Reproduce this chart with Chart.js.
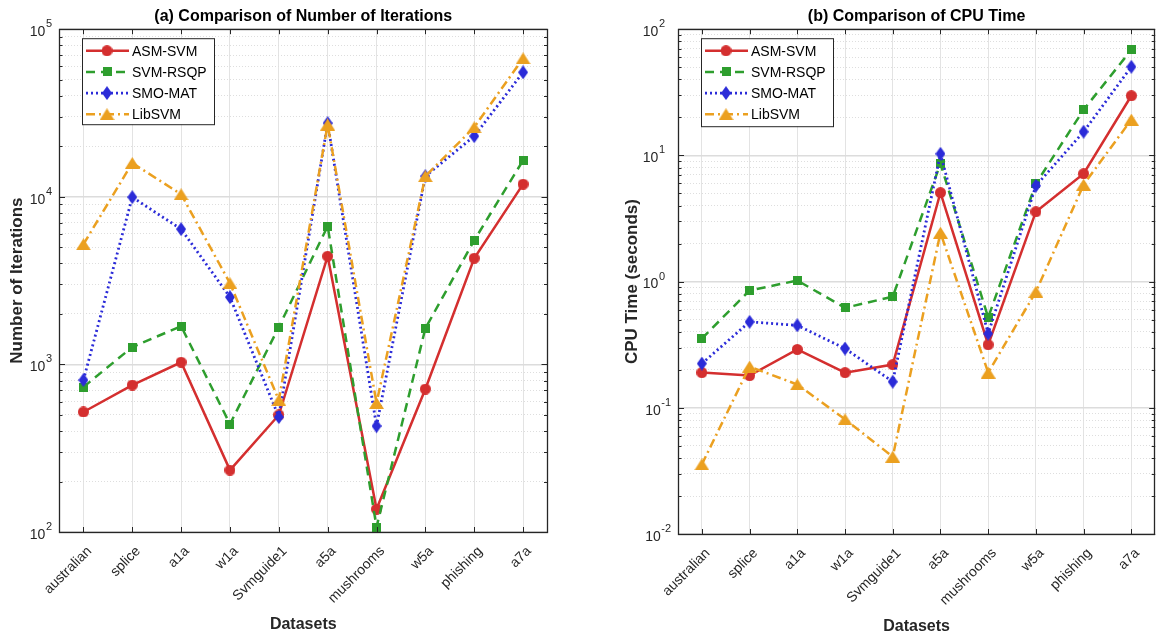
<!DOCTYPE html>
<html>
<head>
<meta charset="utf-8">
<script src="https://cdn.jsdelivr.net/npm/chart.js@4.4.0/dist/chart.umd.min.js"></script>
<style>
  html, body { margin: 0; padding: 0; background: #fff; overflow: hidden; }
  .wrap { position: absolute; top: 0; height: 636px; }
  #w1 { left: 0; width: 580px; }
  #w2 { left: 580px; width: 584px; }
</style>
</head>
<body>
<div class="wrap" id="w1"><canvas id="iterChart" width="580" height="636"></canvas></div>
<div class="wrap" id="w2"><canvas id="cpuChart" width="584" height="636"></canvas></div>
<script>
/* ===== DATA ===== */
const datasetNames = ['australian','splice','a1a','w1a','Svmguide1','a5a','mushrooms','w5a','phishing','a7a'];
const methods = ['ASM-SVM','SVM-RSQP','SMO-MAT','LibSVM'];

// (a) number of iterations
const iterASM  = [520, 753, 1030, 234, 499, 4420, 137, 713, 4300, 11900];
const iterRSQP = [732, 1270, 1690, 440, 1670, 6680, 107, 1640, 5500, 16500];
const iterSMO  = [806, 9950, 6410, 2520, 485, 27500, 429, 13270, 23000, 55300];
const iterLib  = [5210, 15900, 10350, 3050, 612, 27000, 588, 13270, 26000, 67000];

// (b) CPU time (seconds)
const cpuASM  = [0.19, 0.18, 0.29, 0.19, 0.22, 5.07, 0.316, 3.58, 7.16, 29.7];
const cpuRSQP = [0.354, 0.85, 1.02, 0.62, 0.76, 8.6, 0.52, 5.97, 23, 68.7];
const cpuSMO  = [0.224, 0.48, 0.45, 0.295, 0.161, 10.3, 0.387, 5.75, 15.4, 50.4];
const cpuLib  = [0.0356, 0.212, 0.153, 0.081, 0.041, 2.44, 0.19, 0.83, 5.86, 19.2];

// y tick labels (powers of ten)
const iterExps = [2, 3, 4, 5];
const cpuExps  = [-2, -1, 0, 1, 2];

const FONT = "'Liberation Sans', Arial, Helvetica, sans-serif";
const INK  = '#262626';
Chart.defaults.font.family = FONT;
Chart.defaults.color = INK;

/* ===== MARKERS ===== */
function marker(shape, color, w, h) {
  const c = document.createElement('canvas');
  c.width = w; c.height = h;
  const g = c.getContext('2d');
  g.fillStyle = color;
  g.beginPath();
  if (shape === 'circle')   g.arc(w / 2, h / 2, w / 2, 0, Math.PI * 2);
  if (shape === 'square')   g.rect(0, 0, w, h);
  if (shape === 'diamond')  { g.moveTo(w / 2, 0); g.lineTo(w, h / 2); g.lineTo(w / 2, h); g.lineTo(0, h / 2); }
  if (shape === 'triangle') { g.moveTo(w / 2, 0); g.lineTo(w, h); g.lineTo(0, h); }
  g.closePath();
  g.fill();
  return c;
}

const styles = [
  { color: '#D42F2F', dash: [],           width: 2.5, pt: marker('circle',   '#D42F2F', 11, 11), order: 4 },
  { color: '#2E9E2E', dash: [9, 6],       width: 2.5, pt: marker('square',   '#2E9E2E', 9, 9),   order: 3 },
  { color: '#2B2BD8', dash: [2, 3],       width: 2.8, pt: marker('diamond',  '#2B2BD8', 10, 14), order: 2 },
  { color: '#EBA020', dash: [9, 4, 2, 4], width: 2.5, pt: marker('triangle', '#EBA020', 15, 12), order: 1 }
];

function makeSets(series) {
  return series.map((vals, i) => ({
    label: methods[i],
    data: vals,
    borderColor: styles[i].color,
    backgroundColor: styles[i].color,
    borderDash: styles[i].dash,
    borderWidth: styles[i].width,
    pointStyle: styles[i].pt,
    pointRadius: 6,
    tension: 0,
    fill: false,
    order: styles[i].order
  }));
}

const isMajor = v => Math.abs(Math.log10(v) - Math.round(Math.log10(v))) < 1e-6;

/* ===== MATLAB-STYLE FRAME, TICKS, LEGEND ===== */
const frame = {
  id: 'frame',
  afterDraw(chart, args, o) {
    const { ctx, chartArea: a, scales: { x, y } } = chart;
    ctx.save();
    ctx.strokeStyle = INK;
    ctx.lineWidth = 1;
    ctx.beginPath();
    y.ticks.forEach(t => {
      const py = Math.round(y.getPixelForValue(t.value)) + 0.5;
      const L = isMajor(t.value) ? 6 : 3.5;
      ctx.moveTo(a.left, py);  ctx.lineTo(a.left + L, py);
      ctx.moveTo(a.right, py); ctx.lineTo(a.right - L, py);
    });
    x.ticks.forEach((t, i) => {
      const px = Math.round(x.getPixelForTick(i)) + 0.5;
      ctx.moveTo(px, a.bottom); ctx.lineTo(px, a.bottom - 5);
      ctx.moveTo(px, a.top);    ctx.lineTo(px, a.top + 5);
    });
    ctx.stroke();
    ctx.lineWidth = 1.3;
    ctx.strokeRect(Math.round(a.left) + 0.5, Math.round(a.top) + 0.5, Math.round(a.right - a.left) - 1, Math.round(a.bottom - a.top));

    // y tick labels 10^n
    ctx.fillStyle = INK;
    ctx.textBaseline = 'middle';
    const hasNeg = o.exps.some(e => e < 0);
    o.exps.forEach(e => {
      const py = y.getPixelForValue(Math.pow(10, e));
      ctx.font = '11px ' + FONT;
      const es = String(e);
      const we = ctx.measureText(es).width;
      const shift = (hasNeg && e >= 0) ? 6 : 0;
      const ex = a.left - 7 - shift - we;
      ctx.textAlign = 'left';
      ctx.fillText(es, ex, py - 5);
      ctx.font = '14px ' + FONT;
      ctx.textAlign = 'right';
      ctx.fillText('10', ex - 0.5, py + 3);
    });

    // legend
    const bx = a.left + 23, by = a.top + 9, bw = 132, bh = o.legendH;
    ctx.fillStyle = '#fff';
    ctx.fillRect(bx, by, bw, bh);
    ctx.strokeStyle = INK;
    ctx.lineWidth = 1;
    ctx.strokeRect(bx + 0.5, by + 0.5, bw, bh);
    chart.data.datasets.forEach((ds, i) => {
      const ry = by + 12.5 + i * 21.2;
      ctx.save();
      ctx.strokeStyle = ds.borderColor;
      ctx.lineWidth = ds.borderWidth;
      ctx.setLineDash(ds.borderDash);
      ctx.beginPath();
      ctx.moveTo(bx + 4, ry); ctx.lineTo(bx + 47, ry);
      ctx.stroke();
      ctx.restore();
      const p = ds.pointStyle;
      ctx.drawImage(p, bx + 25 - p.width / 2, ry - p.height / 2);
      ctx.fillStyle = '#000';
      ctx.font = '14px ' + FONT;
      ctx.textAlign = 'left';
      ctx.fillText(ds.label, bx + 50, ry + 1);
    });
    ctx.restore();
  }
};

/* ===== CHART BUILDER ===== */
function buildChart(id, cfg) {
  const lo = Math.pow(10, cfg.exps[0]);
  const hi = Math.pow(10, cfg.exps[cfg.exps.length - 1]);
  new Chart(document.getElementById(id), {
    type: 'line',
    data: { labels: datasetNames, datasets: makeSets(cfg.series) },
    options: {
      responsive: false,
      animation: false,
      layout: { padding: { left: 0, right: cfg.padRight, top: 0, bottom: 0 } },
      plugins: {
        legend: { display: false },
        tooltip: { enabled: false },
        title: {
          display: true, fullSize: false, text: cfg.title, color: '#000',
          font: { size: 16, weight: 'bold' }, padding: { top: 7, bottom: 3 }
        },
        frame: { exps: cfg.exps, legendH: cfg.legendH }
      },
      scales: {
        x: {
          type: 'category', offset: true,
          grid: { drawTicks: false, offset: false, color: '#e3e3e3' },
          border: { display: false },
          ticks: { font: { size: 14 }, color: INK, minRotation: 45, maxRotation: 45, padding: 11, labelOffset: 6, autoSkip: false },
          title: { display: true, text: 'Datasets', color: INK, font: { size: 16, weight: 'bold' }, padding: { top: 0, bottom: cfg.xTitlePad } },
          afterFit: s => { s.height = cfg.xHeight; }
        },
        y: {
          type: 'logarithmic', min: lo, max: hi,
          afterBuildTicks: s => {
            const t = [];
            for (let e = cfg.exps[0]; e < cfg.exps[cfg.exps.length - 1]; e++) {
              for (let m = 1; m < 10; m++) t.push({ value: m * Math.pow(10, e) });
            }
            t.push({ value: hi });
            s.ticks = t;
          },
          ticks: { display: false },
          grid: {
            drawTicks: false,
            color: c => (c.tick && isMajor(c.tick.value)) ? '#dcdcdc' : '#dedede',
            lineWidth: c => (c.tick && isMajor(c.tick.value)) ? 1.5 : 1
          },
          border: { display: false, dash: c => (c.tick && isMajor(c.tick.value)) ? [] : [1, 2] },
          title: { display: true, text: cfg.yTitle, color: INK, font: { size: 17, weight: 'bold' }, padding: { top: cfg.yTitlePad, bottom: 0 } },
          afterFit: s => { s.width = cfg.yWidth; }
        }
      }
    },
    plugins: [frame]
  });
}

buildChart('iterChart', {
  title: '(a) Comparison of Number of Iterations',
  yTitle: 'Number of Iterations',
  series: [iterASM, iterRSQP, iterSMO, iterLib],
  exps: iterExps,
  yWidth: 59, padRight: 32.5, yTitlePad: 7,
  xHeight: 104, xTitlePad: 1.5, legendH: 86
});

buildChart('cpuChart', {
  title: '(b) Comparison of CPU Time',
  yTitle: 'CPU Time (seconds)',
  series: [cpuASM, cpuRSQP, cpuSMO, cpuLib],
  exps: cpuExps,
  yWidth: 98, padRight: 1, yTitlePad: 42,
  xHeight: 102, xTitlePad: 0, legendH: 88
});
</script>
</body>
</html>
